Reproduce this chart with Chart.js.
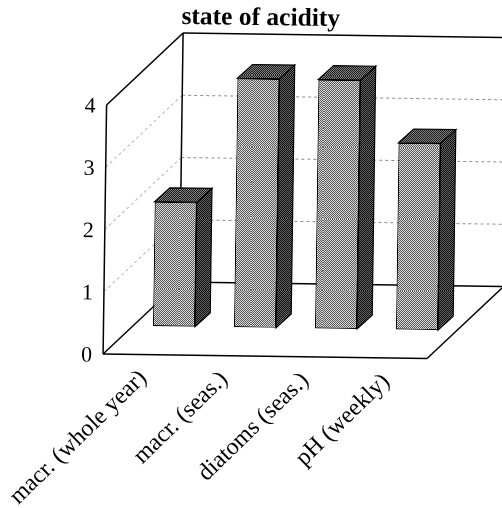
<!DOCTYPE html>
<html>
<head>
<meta charset="utf-8">
<style>
  body { margin: 0; background: #fff; }
  #myChart { display: block; }
</style>
<script src="https://cdn.jsdelivr.net/npm/chart.js@4/dist/chart.umd.min.js"></script>
</head>
<body>
<canvas id="myChart" width="502" height="508"></canvas>
<script>
let labels = ['macr. (whole year)', 'macr. (seas.)', 'diatoms (seas.)', 'pH (weekly)'];
let values = [2, 4, 4, 3];
let yTicks = [0, 1, 2, 3, 4];

// depth of the box and where the bars stand inside it
const wallDepth = { x: 75.5, y: -73 };
const barShift = { x: 30, y: -28.5 };
const barDepth = { x: 15, y: -14 };
const tilt = 0.8 * Math.PI / 180;
const tickFont = '22px "Liberation Serif"';

/* Halftone fill: a small checker tile */
function halftone(dark, light){
    let tile = document.createElement('canvas');
    tile.width = 2;
    tile.height = 2;
    let c = tile.getContext('2d');
    c.fillStyle = light;
    c.fillRect(0, 0, 2, 2);
    c.fillStyle = dark;
    c.fillRect(0, 0, 1, 1);
    c.fillRect(1, 1, 1, 1);
    return c.createPattern(tile, 'repeat');
}

let frontFill = halftone('#585858', '#dadada');
let sideFill = halftone('#0c0c0c', '#666666');
let topFill = halftone('#1c1c1c', '#808080');

function line(ctx, x1, y1, x2, y2){
    ctx.beginPath();
    ctx.moveTo(x1, y1);
    ctx.lineTo(x2, y2);
    ctx.stroke();
}

function face(ctx, points, fill){
    ctx.beginPath();
    points.forEach((p, i) => i ? ctx.lineTo(p[0], p[1]) : ctx.moveTo(p[0], p[1]));
    ctx.closePath();
    ctx.fillStyle = fill;
    ctx.fill();
    ctx.stroke();
}

/* Walls, floor and grid of the box */
const boxPlugin = {
    id: 'box',
    beforeDraw(chart){
        // whole figure sits slightly tilted
        const ctx = chart.ctx;
        ctx.save();
        ctx.imageSmoothingEnabled = false;
        ctx.translate(chart.width / 2, chart.height / 2);
        ctx.rotate(tilt);
        ctx.translate(-chart.width / 2, -chart.height / 2);
    },
    afterDraw(chart){
        chart.ctx.restore();
    },
    beforeDatasetsDraw(chart){
        const ctx = chart.ctx;
        const y = chart.scales.y;
        const area = chart.chartArea;
        const dx = wallDepth.x;
        const dy = wallDepth.y;
        const backLeft = area.left + dx;
        const backRight = area.right + dx;

        ctx.save();
        ctx.lineWidth = 1;
        ctx.setLineDash([3, 3]);
        yTicks.slice(1, -1).forEach(t => {
            let py = y.getPixelForValue(t);
            ctx.strokeStyle = '#b4b4b4';
            line(ctx, area.left, py, backLeft, py + dy);
            ctx.strokeStyle = '#8c8c8c';
            line(ctx, backLeft, py + dy, backRight, py + dy);
        });
        ctx.setLineDash([]);

        ctx.strokeStyle = '#000';
        ctx.lineWidth = 1.5;
        // left wall
        line(ctx, area.left, area.top, area.left, area.bottom);
        line(ctx, area.left, area.top, backLeft, area.top + dy);
        line(ctx, backLeft, area.top + dy, backLeft, area.bottom + dy);
        line(ctx, area.left, area.bottom, backLeft, area.bottom + dy);
        // back wall
        line(ctx, backLeft, area.top + dy, backRight, area.top + dy);
        line(ctx, backRight, area.top + dy, backRight, area.bottom + dy);
        line(ctx, backLeft, area.bottom + dy, backRight, area.bottom + dy);
        // floor
        line(ctx, area.left, area.bottom, area.right, area.bottom);
        line(ctx, area.right, area.bottom, backRight, area.bottom + dy);

        // y tick labels sit a touch below their gridline
        ctx.fillStyle = '#000';
        ctx.font = tickFont;
        ctx.textAlign = 'right';
        ctx.textBaseline = 'middle';
        y.ticks.forEach((t, i) => {
            ctx.fillText(t.label, area.left - 11, y.getPixelForTick(i) + 2);
        });
        ctx.restore();
    },
    beforeDatasetDraw(chart){
        chart.ctx.save();
        chart.ctx.translate(barShift.x, barShift.y);
    },
    afterDatasetDraw(chart, args){
        const ctx = chart.ctx;
        ctx.strokeStyle = '#000';
        ctx.lineWidth = 1.2;
        args.meta.data.forEach(bar => {
            let l = bar.x - bar.width / 2;
            let r = bar.x + bar.width / 2;
            let t = bar.y;
            let b = bar.base;
            let dx = barDepth.x;
            let dy = barDepth.y;
            face(ctx, [[r, t], [r + dx, t + dy], [r + dx, b + dy], [r, b]], sideFill);
            face(ctx, [[l, t], [l + dx, t + dy], [r + dx, t + dy], [r, t]], topFill);
        });
        ctx.restore();
    },
    afterLayout(chart){
        // title is centred a little left of the plot
        chart.titleBlock.left -= 9;
        chart.titleBlock.right -= 9;
    }
};

let data = {
    labels: labels,
    datasets: [{
        data: values,
        backgroundColor: frontFill,
        borderColor: '#000',
        borderWidth: 1.2,
        borderSkipped: false,
        categoryPercentage: 1,
        barPercentage: 0.52,
        clip: false
    }]
};

let config = {
    type: 'bar',
    data: data,
    plugins: [boxPlugin],
    options: {
        responsive: false,
        animation: false,
        layout: { padding: { right: 73.5 } },
        plugins: {
            legend: { display: false },
            tooltip: { enabled: false },
            title: {
                display: true,
                text: 'state of acidity',
                color: '#000',
                fullSize: false,
                font: { family: '"Liberation Serif"', size: 25.5, weight: 'bold', lineHeight: 1.2 },
                padding: { top: 3, bottom: 73.4 }
            }
        },
        scales: {
            x: {
                grid: { display: false },
                border: { display: false },
                ticks: {
                    color: '#000',
                    font: { family: '"Liberation Serif"', size: 24 },
                    minRotation: 45,
                    maxRotation: 45,
                    padding: 2
                },
                afterFit(scale){ scale.height = 152; }
            },
            y: {
                min: 0,
                max: 4,
                grid: { display: false },
                border: { display: false },
                ticks: {
                    display: false,
                    stepSize: 1
                },
                afterFit(scale){ scale.width = 104.5; }
            }
        }
    }
};

let myChart = new Chart(document.getElementById('myChart').getContext('2d'), config);
</script>
</body>
</html>
